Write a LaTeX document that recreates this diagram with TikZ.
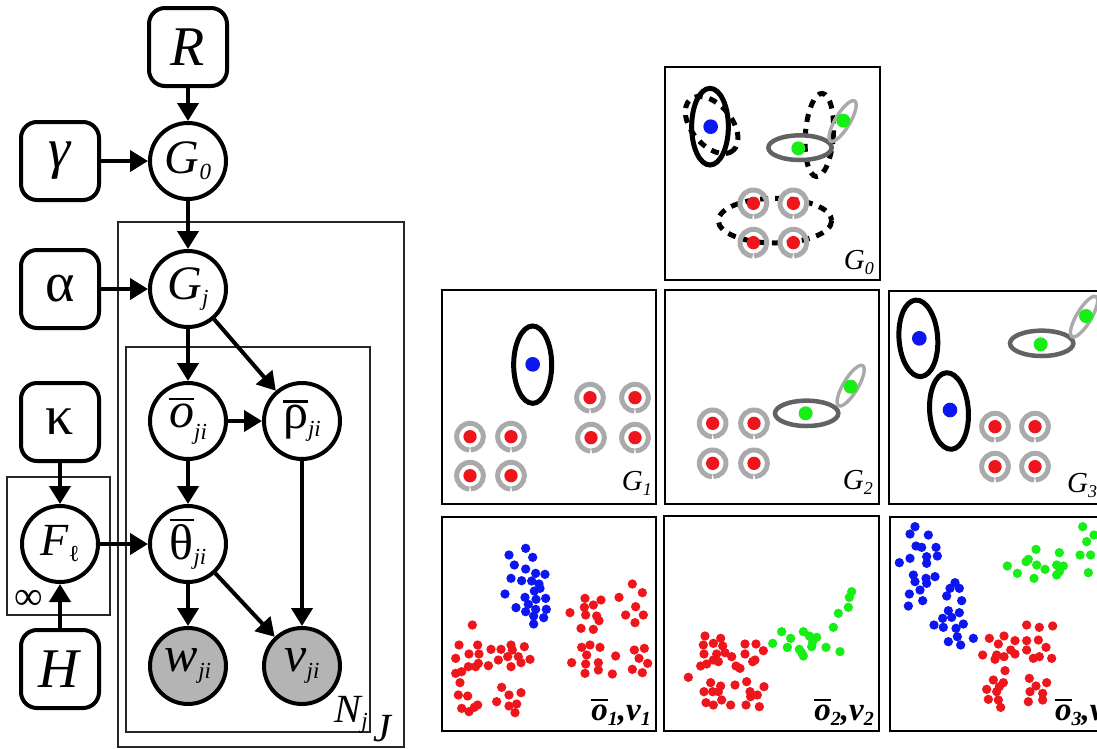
\documentclass[tikz,border=0pt]{standalone}
\usepackage{fontspec}
\setmainfont{Liberation Serif}
\usetikzlibrary{arrows.meta}

\definecolor{dotred}{RGB}{238,22,28}
\definecolor{dotblue}{RGB}{12,22,240}
\definecolor{dotgreen}{RGB}{22,238,22}
\definecolor{ringgray}{RGB}{170,170,170}
\definecolor{ellgray}{RGB}{98,98,98}
\definecolor{obsgray}{RGB}{180,180,180}

% bar over a letter, and lowered subscripts
\newcommand\topbar[2][2.4pt]{\vbox{\hrule height #1\kern 3pt\hbox{#2}}}
\newcommand\lowsub[2][8pt]{\raisebox{-#1}{\fontsize{23}{23}\selectfont\itshape #2}}
\newcommand\psub[2][5pt]{\raisebox{-#1}{\fontsize{18}{18}\selectfont #2}}
\newcommand\dsub[2][5pt]{\raisebox{-#1}{\fontsize{20}{20}\selectfont #2}}

\begin{document}
\begin{tikzpicture}[
  x=1pt,y=-1pt,
  hyper/.style={draw, line width=4pt, rounded corners=16pt, minimum width=78pt, minimum height=78pt, inner sep=0pt, font=\fontsize{56}{56}\selectfont},
  latent/.style={circle, draw, fill=white, line width=4pt, minimum size=76pt, inner sep=0pt, font=\fontsize{50}{50}\selectfont},
  observed/.style={latent, fill=obsgray},
  link/.style={line width=4pt, -{Triangle[length=18pt,width=21pt]}},
  plate/.style={draw=black!85, line width=1.6pt},
  platelbl/.style={inner sep=0pt, font=\fontsize{40}{40}\selectfont\itshape},
  panel/.style={draw, line width=1.8pt},
  glabel/.style={inner sep=0pt, font=\fontsize{29}{29}\selectfont\itshape},
  dlabel/.style={inner sep=0pt, font=\fontsize{33}{33}\selectfont\bfseries\itshape},
  ring/.style={ringgray, line width=5pt},
  blackell/.style={black, line width=5pt},
  wideell/.style={ellgray, line width=4.5pt},
  thinell/.style={ringgray, line width=3.4pt},
  dashell/.style={black, line width=5pt, dash pattern=on 8pt off 7pt}
]
\useasboundingbox (0,0) rectangle (1097,748);
\clip (0,0) rectangle (1097,748);

% ----------------------------- graphical model -----------------------------
\draw[plate] (118,222) rectangle (404,747);
\draw[plate] (126,347) rectangle (370,732);
\draw[plate] (7,477) rectangle (110,615);

\node[hyper] (R) at (188,47) {\textit{R}};
\node[hyper] (gamma) at (60,161) {\textit{γ}};
\node[hyper] (alpha) at (60,289) {α};
\node[hyper] (kappa) at (60,422) {κ};
\node[hyper] (H) at (60,669) {\textit{H}};

\node[latent, font=\fontsize{48}{48}\selectfont] (G0) at (188,161) {\textit{G}\lowsub[6pt]{0}};
\node[latent, font=\fontsize{48}{48}\selectfont] (Gj) at (188,289) {\textit{G}\lowsub[6pt]{j}};
\node[latent] (obar) at (188,421) {\topbar{\itshape o}\lowsub[12pt]{ji}};
\node[latent] (rhobar) at (302,421) {\topbar{ρ}\lowsub[8pt]{ji}};
\node[latent] (thetabar) at (188,544) {\topbar{θ}\lowsub[5pt]{ji}};
\node[latent, font=\fontsize{46}{46}\selectfont] (F) at (60,544) {\textit{F}\lowsub[6pt]{\upshape ℓ}};
\node[observed] (w) at (188,666) {\textit{w}\lowsub[7pt]{ji}};
\node[observed] (v) at (302,666) {\textit{v}\lowsub[7pt]{ji}};

\node[platelbl, anchor=base east] (Nlbl) at (368,722) {N\lowsub[6pt]{j}};
\node[platelbl, anchor=base west] (Jlbl) at (373,741) {J};
\node[platelbl, font=\fontsize{40}{40}\selectfont] (inflbl) at (29,600) {∞};

\draw[link] (R) -- (G0);
\draw[link] (gamma) -- (G0);
\draw[link] (G0) -- (Gj);
\draw[link] (alpha) -- (Gj);
\draw[link] (Gj) -- (obar);
\draw[link] (Gj) -- (rhobar);
\draw[link] (obar) -- (rhobar);
\draw[link] (obar) -- (thetabar);
\draw[link] (kappa) -- (F);
\draw[link] (H) -- (F);
\draw[link] (F) -- (thetabar);
\draw[link] (thetabar) -- (w);
\draw[link] (thetabar) -- (v);
\draw[link] (rhobar) -- (v);

% ----------------------------- panels G -----------------------------
\draw[panel] (665,67) rectangle (880,280);
\draw[panel] (442,290) rectangle (656,504);
\draw[panel] (665,290) rectangle (879,504);
\draw[panel] (889,291) rectangle (1104,504);

% G_0: shared atoms
\begin{scope}[shift={(660,60)}, scale=1/3]
  \draw[dashell] (345,482) ellipse[x radius=170, y radius=67];
  \draw[blackell] (150,200) ellipse[x radius=55, y radius=115];
  \draw[dashell, rotate around={-50:(155,195)}] (155,195) ellipse[x radius=100, y radius=60];
  \draw[dashell, rotate around={-4:(478,225)}] (478,225) ellipse[x radius=42, y radius=125];
  \draw[wideell] (420,263) ellipse[x radius=95, y radius=37];
  \draw[thinell, rotate around={59:(548,183)}] (548,183) ellipse[x radius=70, y radius=22];
  \fill[dotblue] (152,200) circle[radius=22];
  \fill[dotgreen] (415,265) circle[radius=21];
  \fill[dotgreen] (550,182) circle[radius=21];
  \foreach \px/\py in {280/430, 400/430, 280/548, 400/548}
    {
      \draw[ring] (\px,\py) ++(93:40) arc[start angle=93, end angle=447, radius=40];
      \fill[dotred] (\px,\py) circle[radius=20];
    }
\end{scope}
\node[glabel, anchor=base east] (lblG0) at (874,269) {G\psub{0}};

% G_1
\begin{scope}[shift={(435,285)}, scale=1/3]
  \draw[blackell] (293,239) ellipse[x radius=57, y radius=116];
  \fill[dotblue] (293,238) circle[radius=22];
  \foreach \px/\py in {465/338, 600/338, 468/458, 600/458, 105/455, 228/455, 105/572, 228/572}
    {
      \draw[ring] (\px,\py) ++(93:40) arc[start angle=93, end angle=447, radius=40];
      \fill[dotred] (\px,\py) circle[radius=20];
    }
\end{scope}
\node[glabel, anchor=base east] (lblG1) at (652,490) {G\psub{1}};

% G_2
\begin{scope}[shift={(660,285)}, scale=1/3]
  \draw[wideell] (440,385) ellipse[x radius=95, y radius=38];
  \draw[thinell, rotate around={59:(572,302)}] (572,302) ellipse[x radius=70, y radius=22];
  \fill[dotgreen] (437,385) circle[radius=21];
  \fill[dotgreen] (572,305) circle[radius=21];
  \foreach \px/\py in {158/415, 282/415, 158/535, 282/535}
    {
      \draw[ring] (\px,\py) ++(93:40) arc[start angle=93, end angle=447, radius=40];
      \fill[dotred] (\px,\py) circle[radius=20];
    }
\end{scope}
\node[glabel, anchor=base east] (lblG2) at (873,489) {G\psub{2}};

% G_3
\begin{scope}[shift={(880,285)}, scale=1/3]
  \draw[blackell, rotate around={4:(115,160)}] (115,160) ellipse[x radius=58, y radius=115];
  \draw[blackell, rotate around={4:(207,378)}] (207,378) ellipse[x radius=58, y radius=115];
  \draw[wideell] (485,175) ellipse[x radius=95, y radius=38];
  \draw[thinell, rotate around={59:(612,95)}] (612,95) ellipse[x radius=70, y radius=22];
  \fill[dotblue] (118,160) circle[radius=22];
  \fill[dotblue] (210,375) circle[radius=22];
  \fill[dotgreen] (482,178) circle[radius=21];
  \fill[dotgreen] (618,93) circle[radius=21];
  \foreach \px/\py in {345/425, 465/425, 345/545, 465/545}
    {
      \draw[ring] (\px,\py) ++(93:40) arc[start angle=93, end angle=447, radius=40];
      \fill[dotred] (\px,\py) circle[radius=20];
    }
\end{scope}
\node[glabel, anchor=base west] (lblG3) at (1067,492) {G\psub{3}};

% ----------------------------- panels data -----------------------------
\draw[panel] (442,517) rectangle (656,731);
\draw[panel] (664,516) rectangle (879,731);
\draw[panel] (890,517) rectangle (1105,731);

\begin{scope}[shift={(435,510)}, scale=1/3]
  \foreach \px/\py in {272/115, 222/135, 293/142, 238/165, 272/177, 302/190, 330/193, 228/205,
    260/212, 290/213, 312/222, 315/235, 298/243, 210/252, 270/262, 303/268, 332/265, 243/293,
    280/283, 302/298, 334/298, 272/305, 296/318, 326/323, 296/342}
    \fill[dotblue] (\px,\py) circle[radius=14];
  \foreach \px/\py in {112/345, 72/405, 128/405, 168/418, 198/418, 228/405, 232/420, 268/410,
    102/432, 132/432, 62/445, 218/440, 250/440, 285/448, 130/460, 160/467, 190/450, 258/458,
    228/470, 100/470, 122/470, 62/490, 80/485, 75/518, 70/555, 98/558, 80/595, 102/605,
    118/592, 128/585, 200/532, 185/575, 222/555, 258/548, 222/588, 245/582, 240/608,
    592/222, 450/265, 498/270, 622/248, 552/262, 448/292, 475/285, 405/308, 452/315, 485/318,
    572/315, 602/290, 625/315, 438/355, 475/358, 492/332, 600/338, 440/412, 465/405, 495/412,
    598/420, 628/415, 455/435, 410/458, 452/462, 490/458, 542/438, 612/445, 638/460, 592/478,
    450/490, 490/480, 532/492, 622/488}
    \fill[dotred] (\px,\py) circle[radius=14];
\end{scope}
\node[dlabel, anchor=base east] (lblD1) at (651,720) {\topbar[2.4pt]{o}\dsub{1},v\dsub{1}};

\begin{scope}[shift={(660,510)}, scale=1/3]
  \foreach \px/\py in {575/245, 568/262, 565/292, 535/310, 520/352, 365/365, 338/400, 392/385,
    430/365, 448/378, 470/382, 458/395, 382/412, 418/418, 455/410, 430/438, 498/412, 540/425, 425/428}
    \fill[dotgreen] (\px,\py) circle[radius=14];
  \foreach \px/\py in {135/378, 182/385, 130/405, 160/400, 188/408, 132/432, 170/432, 195/428,
    215/440, 255/402, 288/402, 310/422, 255/432, 285/450, 278/455, 160/450, 122/468, 140/462,
    175/455, 228/468, 240/475, 85/502, 152/518, 182/528, 225/525, 260/515, 132/545, 158/545,
    175/545, 270/545, 312/530, 292/555, 138/578, 160/585, 185/570, 212/585, 258/585, 298/590, 272/560}
    \fill[dotred] (\px,\py) circle[radius=14];
\end{scope}
\node[dlabel, anchor=base east] (lblD2) at (874,720) {\topbar[2.4pt]{o}\dsub{2},v\dsub{2}};

\begin{scope}[shift={(880,510)}, scale=1/3]
  \foreach \px/\py in {105/50, 90/72, 145/75, 108/108, 125/112, 168/112, 90/145, 58/158, 140/140,
    172/138, 140/160, 100/195, 138/205, 165/200, 105/215, 140/220, 88/252, 120/240, 128/272,
    85/288, 225/218, 238/235, 210/235, 200/258, 245/272, 205/302, 238/308, 188/325, 162/345,
    215/322, 250/342, 190/352, 228/355, 232/380, 205/395, 242/405, 280/385}
    \fill[dotblue] (\px,\py) circle[radius=14];
  \foreach \px/\py in {608/50, 642/75, 620/95, 600/135, 632/135, 625/188, 468/118, 538/128,
    445/148, 438/155, 382/168, 470/165, 495/178, 412/190, 462/205, 530/165, 550/168, 538/185, 530/195}
    \fill[dotgreen] (\px,\py) circle[radius=14];
  \foreach \px/\py in {440/345, 478/352, 518/348, 372/378, 328/385, 405/392, 440/392, 475/390,
    355/402, 392/420, 498/412, 308/435, 350/435, 372/440, 405/432, 440/420, 460/445, 478/440,
    515/445, 345/448, 375/482, 448/505, 340/510, 370/518, 320/538, 350/545, 358/530, 500/518,
    468/528, 488/550, 450/545, 325/568, 355/570, 362/592, 445/575, 488/570}
    \fill[dotred] (\px,\py) circle[radius=14];
\end{scope}
\node[dlabel, anchor=base west] (lblD3) at (1055,720) {\topbar[2.4pt]{o}\dsub{3},v\dsub{3}};

\end{tikzpicture}
\end{document}
